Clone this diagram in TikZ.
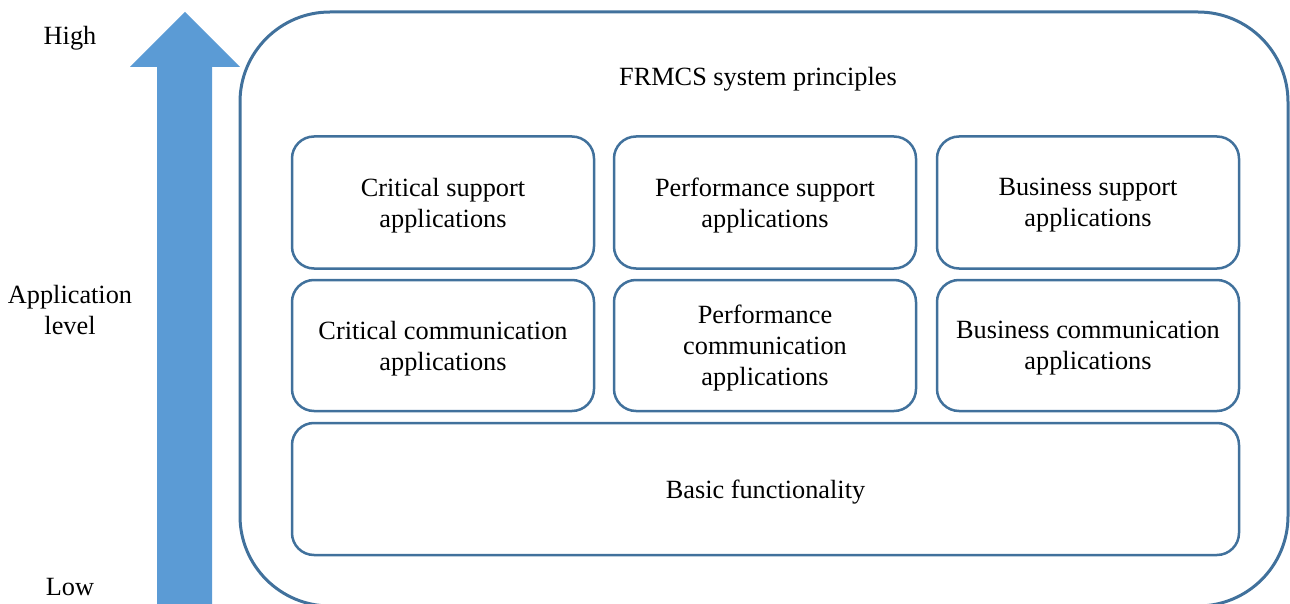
\documentclass[tikz,border=0pt]{standalone}
\usepackage{fontspec}
\setmainfont{Liberation Serif}
\definecolor{arrowblue}{HTML}{5B9BD5}
\definecolor{edgeblue}{HTML}{41719C}
\begin{document}
\begin{tikzpicture}[x=1pt,y=-1pt,
  txt/.style={font=\fontsize{26.3}{31}\selectfont, align=center, inner sep=0pt},
  appbox/.style={draw=edgeblue, line width=2.5pt, rounded corners=22pt,
    minimum width=302pt, minimum height=132pt, inner sep=0pt},
  outerbox/.style={draw=edgeblue, line width=3pt, rounded corners=90pt,
    minimum width=1048pt, minimum height=594pt, inner sep=0pt},
  boxtxt/.style={txt, yshift=-3pt}]
\useasboundingbox (0,0) rectangle (1290,604);
% level arrow
\fill[arrowblue] (185,12) -- (240,67) -- (212,67) -- (212,612) -- (157,612) -- (157,67) -- (130,67) -- cycle;
\node[txt] (high) at (70,38) {High};
\node[txt] (level) at (70,310) {Application\\level};
\node[txt] (low) at (70,587) {Low};
% outer box
\node[outerbox] (outer) at (764,309) {};
\node[txt] (title) at (758,79) {FRMCS system principles};
% application boxes
\node[appbox] (cs) at (443,202.5) {};
\node[appbox] (ps) at (765,202.5) {};
\node[appbox] (bs) at (1088,202.5) {};
\node[appbox, minimum height=131pt] (cc) at (443,345.5) {};
\node[appbox, minimum height=131pt] (pc) at (765,345.5) {};
\node[appbox, minimum height=131pt] (bc) at (1088,345.5) {};
\node[appbox, minimum width=947pt] (basic) at (765.5,489) {};
\node[boxtxt] (cs-t) at (cs.center) {Critical support\\applications};
\node[boxtxt] (ps-t) at (ps.center) {Performance support\\applications};
\node[boxtxt] (bs-t) at (bs.center) {Business support\\applications};
\node[boxtxt] (cc-t) at (cc.center) {Critical communication\\applications};
\node[boxtxt] (pc-t) at (pc.center) {Performance\\communication\\applications};
\node[boxtxt] (bc-t) at (bc.center) {Business communication\\applications};
\node[boxtxt] (basic-t) at (basic.center) {Basic functionality};
\end{tikzpicture}
\end{document}
